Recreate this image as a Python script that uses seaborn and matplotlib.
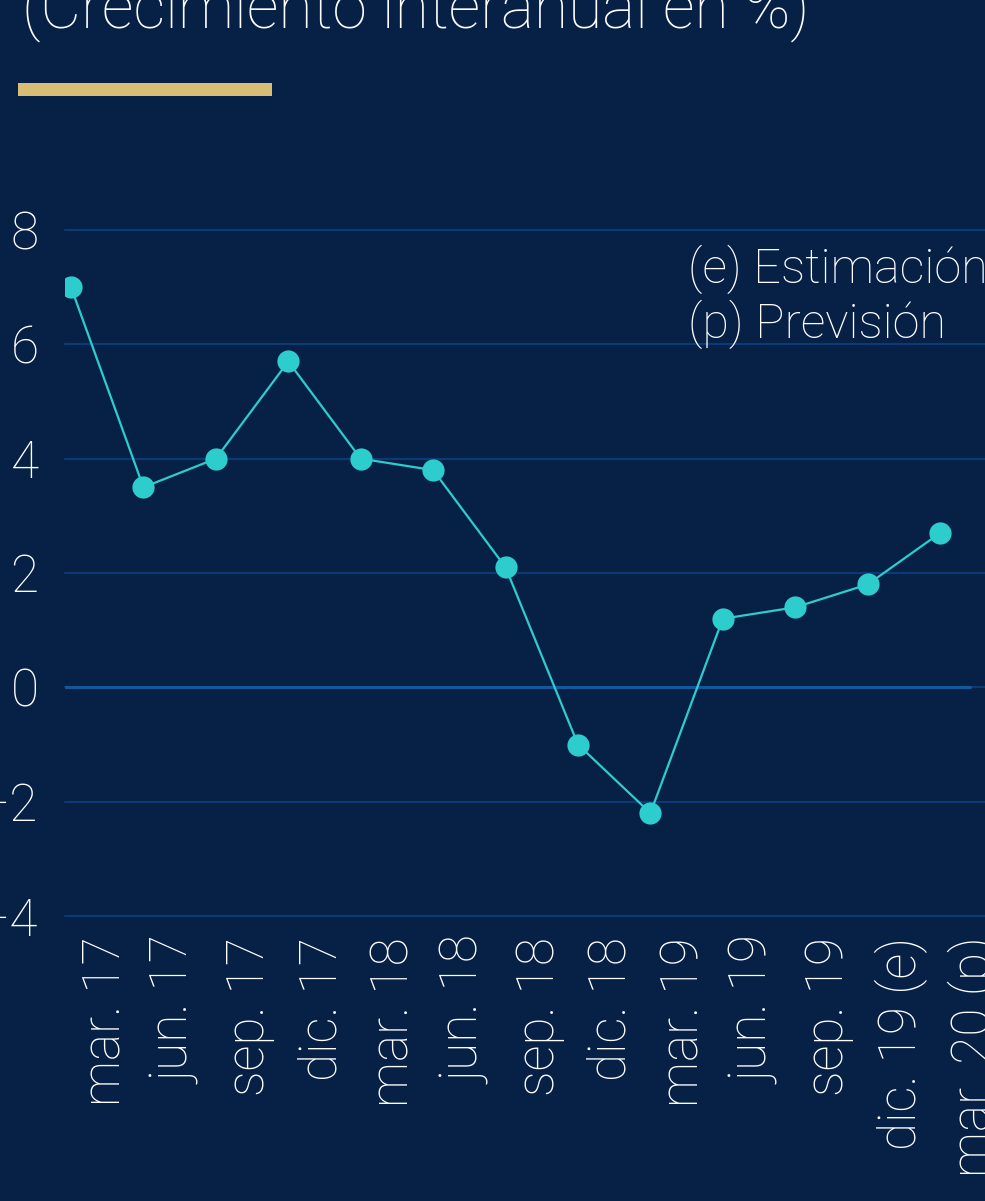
import numpy as np
import pandas as pd
import matplotlib
matplotlib.use("Agg")
import matplotlib.pyplot as plt
import matplotlib.transforms as mtransforms
import seaborn as sns

# Datos
periodos = ["mar. 17", "jun. 17", "sep. 17", "dic. 17", "mar. 18", "jun. 18",
            "sep. 18", "dic. 18", "mar. 19", "jun. 19", "sep. 19",
            "dic. 19 (e)", "mar. 20 (p)"]
crecimiento = [7.0, 3.5, 4.0, 5.7, 4.0, 3.8, 2.1, -1.0, -2.2, 1.2, 1.4, 1.8, 2.7]
y_ticks = [-4, -2, 0, 2, 4, 6, 8]
titulo = "(Crecimiento interanual en %)"
notas = "(e) Estimación\n(p) Previsión"

# Colores
navy = "#072146"
aqua = "#2dcccd"
gold = "#d8be75"
grid_blue = "#0b3a76"
zero_blue = "#14589c"

sns.set_theme(style="dark")
plt.rcParams['font.family'] = ['Roboto', 'DejaVu Sans']
plt.rcParams['font.weight'] = 'light'

df = pd.DataFrame({"pos": np.arange(len(periodos)), "valor": crecimiento})

fig = plt.figure(figsize=(9.85, 12.01), dpi=100, facecolor=navy)
ax = fig.add_axes([65 / 985, 285 / 1201, 920 / 985, 686 / 1201])
ax.set_facecolor(navy)

sns.lineplot(data=df, x="pos", y="valor", ax=ax, color=aqua, linewidth=1.6,
             marker="o", markersize=16, markeredgewidth=0, sort=False, zorder=3)
ax.axhline(0, xmin=0, xmax=0.984, color=zero_blue, linewidth=2.2, zorder=2)

ax.set_xlim(-0.083, 12.62)
ax.set_ylim(-4, 8)
ax.set_yticks(y_ticks)
ax.set_xticks(df["pos"])
ax.set_xticklabels(periodos, rotation=90)
ax.yaxis.grid(True, color=grid_blue, linewidth=1.5)
ax.xaxis.grid(False)
for gl in ax.get_ygridlines():
    gl.set_clip_on(False)
for s in ax.spines.values():
    s.set_visible(False)
ax.set_xlabel("")
ax.set_ylabel("")
ax.tick_params(axis="both", length=0, colors="white", labelsize=37)
ax.tick_params(axis="y", pad=19)
ax.tick_params(axis="x", pad=15)

shift = mtransforms.ScaledTranslation(0.34, 0, fig.dpi_scale_trans)
for lbl in ax.get_xticklabels():
    lbl.set_transform(lbl.get_transform() + shift)

ax.text(0.677, 0.978, notas, transform=ax.transAxes, ha="left", va="top",
        color="white", fontsize=35, linespacing=1.13)

fig.text(22 / 985, 1 - 28 / 1201, titulo, ha="left", va="baseline",
         color="white", fontsize=45)
fig.add_artist(plt.Rectangle((18 / 985, 1 - 96 / 1201), 254 / 985, 13 / 1201,
                             transform=fig.transFigure, color=gold, lw=0))

fig.savefig("out.png", dpi=100, facecolor=navy)
